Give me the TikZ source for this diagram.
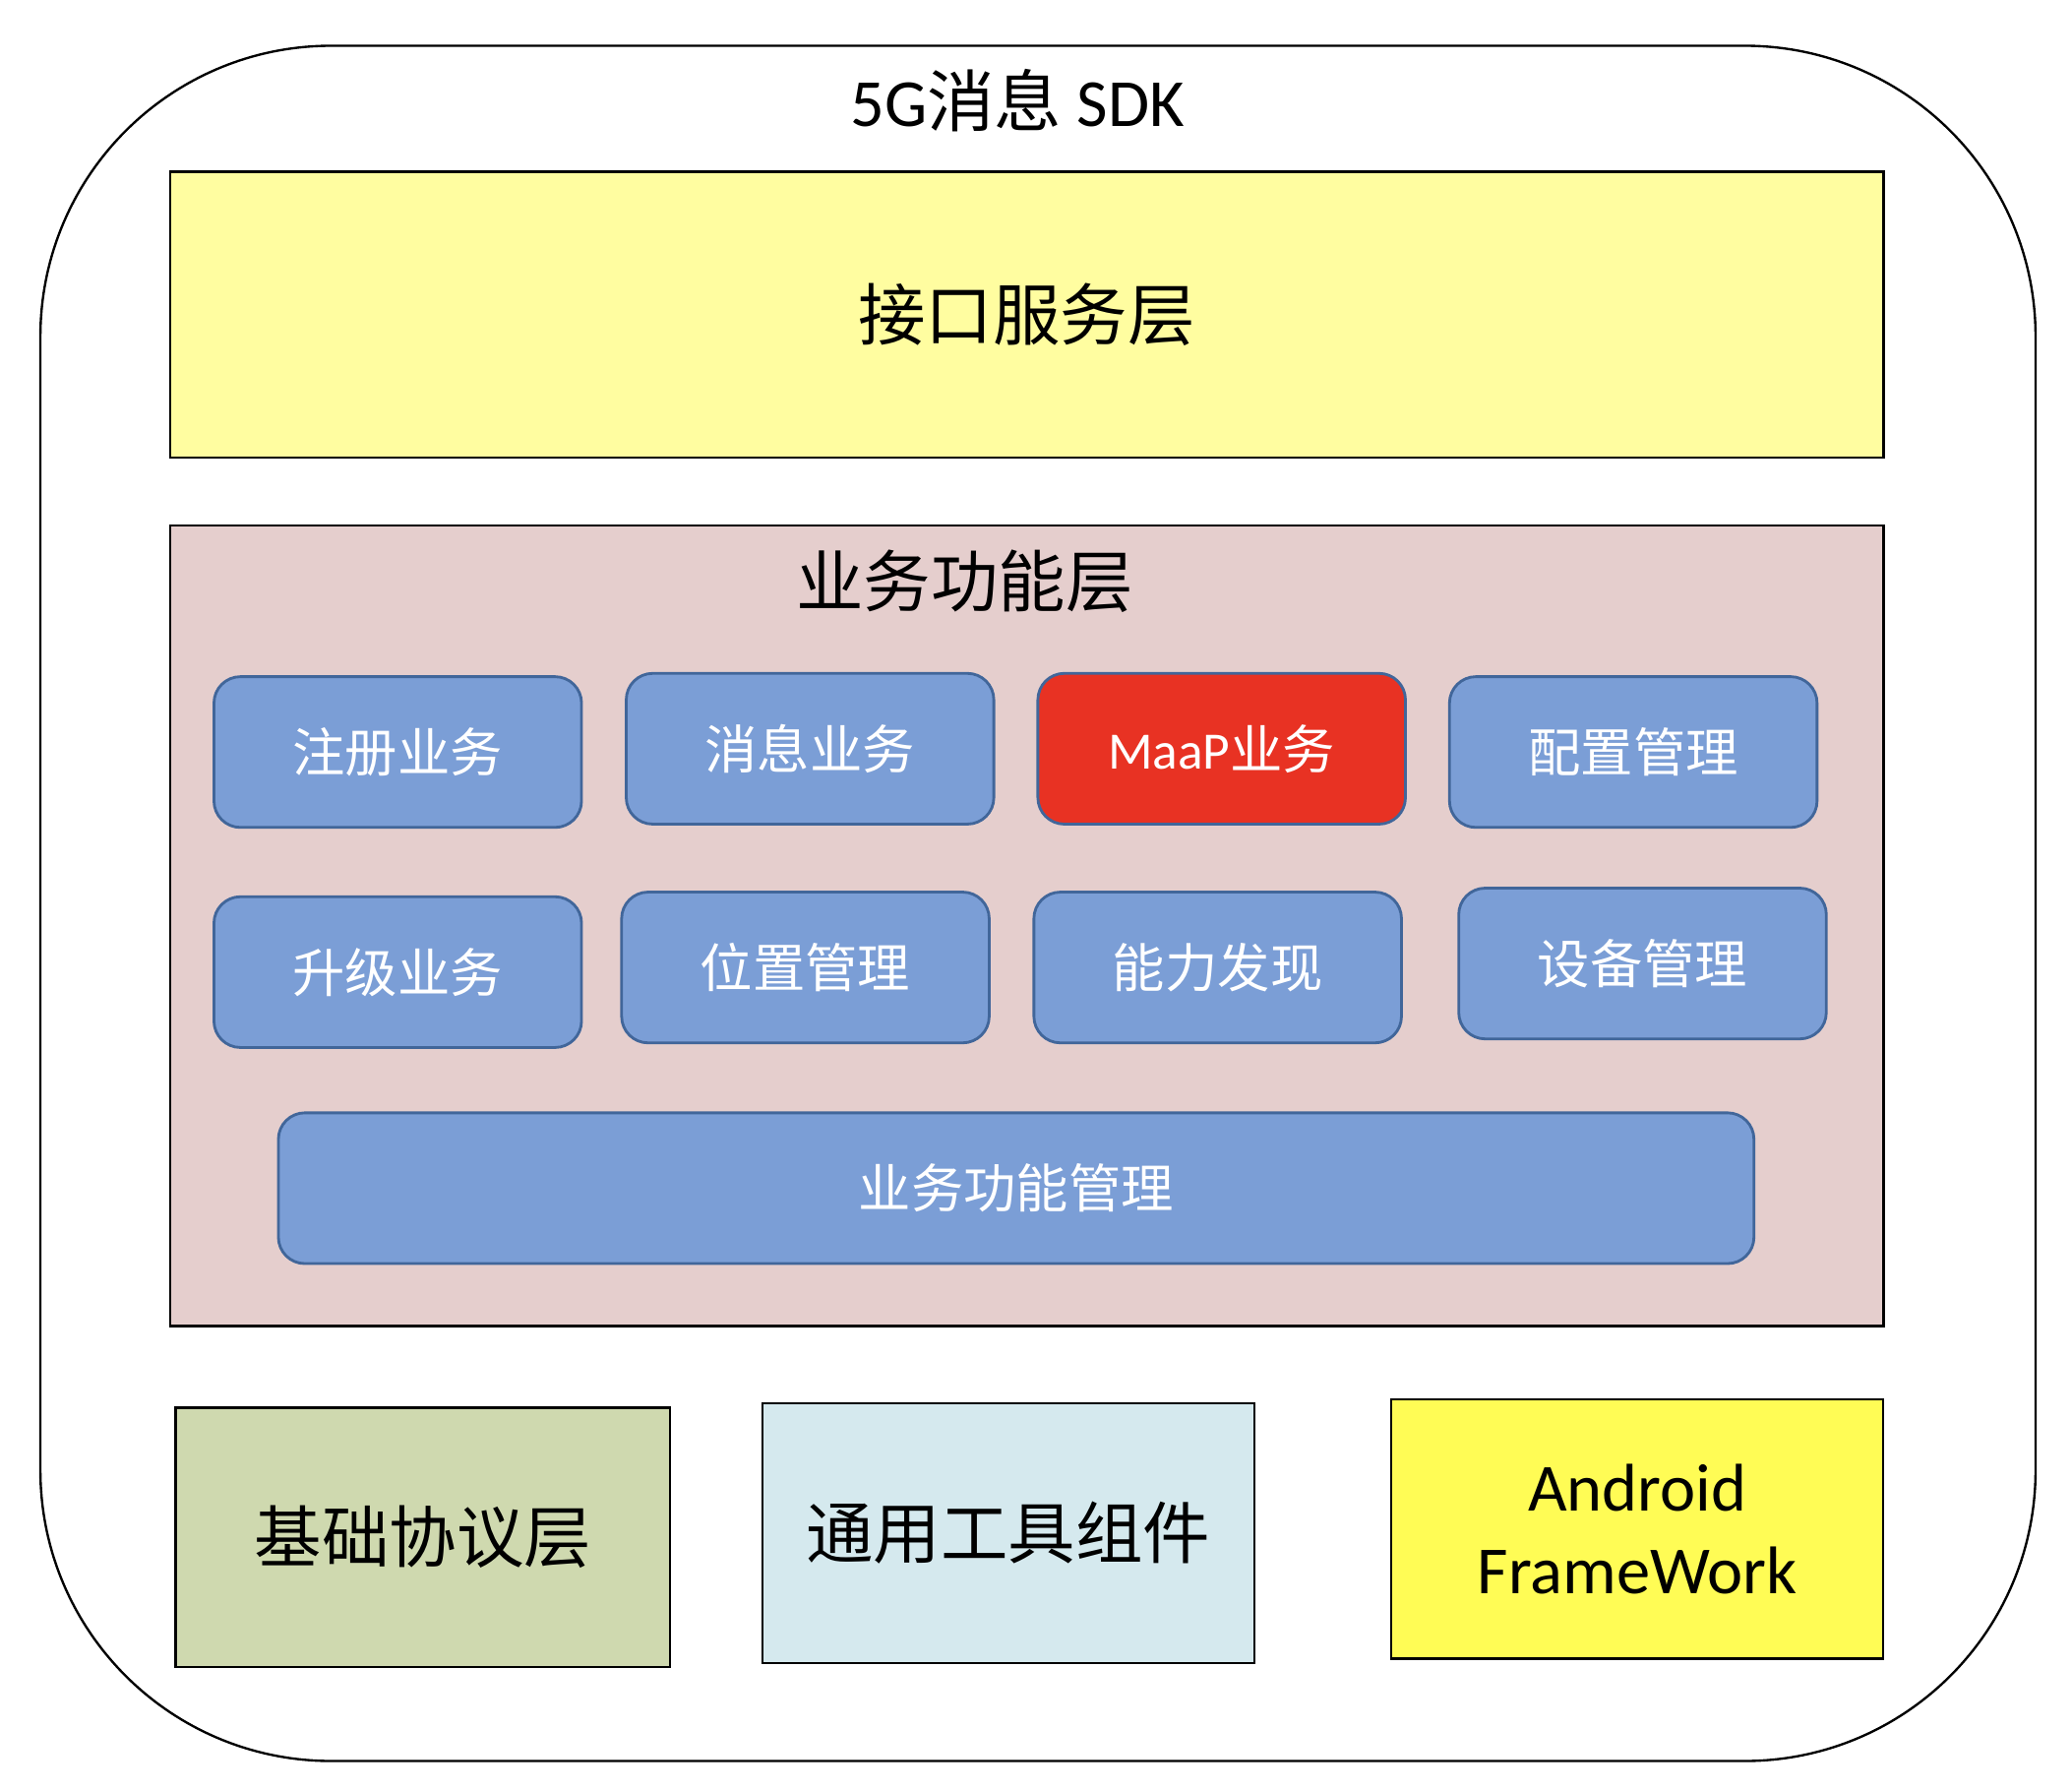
\documentclass[tikz,border=0pt]{standalone}
\usepackage{fontspec}
\setmainfont{Carlito}
\newfontfamily\cjk{Noto Sans CJK SC}
\usetikzlibrary{positioning}
\definecolor{ifyellow}{RGB}{255,253,160}
\definecolor{funcpink}{RGB}{229,206,205}
\definecolor{bizblue}{RGB}{123,158,214}
\definecolor{bizedge}{RGB}{65,102,154}
\definecolor{maapred}{RGB}{232,50,35}
\definecolor{basegreen}{RGB}{207,217,175}
\definecolor{utilcyan}{RGB}{213,233,238}
\definecolor{andyellow}{RGB}{255,252,85}
\tikzset
{%
bigtext/.style={font=\fontsize{14.5}{17.9}\selectfont},
layer/.style={draw=black, line width=0.5pt, inner sep=0pt, bigtext},
biz/.style={draw=bizedge, fill=bizblue, rounded corners=0.2cm, line width=0.6pt,
	minimum width=2.78cm, minimum height=1.14cm, inner sep=0pt, text=white,
	font=\fontsize{11.3}{13}\selectfont\cjk},
px/.style={x=0.01cm, y=-0.01cm}
}

\begin{document}
\begin{tikzpicture}[px]
		\useasboundingbox (0,0) rectangle (1568,1355);
		
		%SDK frame
		\node[draw, line width=0.5pt, rounded corners=2.2cm, minimum width=15.09cm,
			minimum height=12.97cm] (sdk) at (785.5,683.5) {};
		\node[bigtext] (title) at (770,76) {5G{\cjk 消息} SDK};
		
		%Interface layer
		\node[layer, fill=ifyellow, minimum width=12.96cm, minimum height=2.16cm]
			(iface) at (777,238) {\cjk 接口服务层};
		
		%Function layer
		\node[layer, fill=funcpink, minimum width=12.96cm, minimum height=6.05cm]
			(func) at (777,700.5) {};
		\node[bigtext] (functitle) at (730,440) {\cjk 业务功能层};
		
		\node[biz] (reg) at (301,569) {注册业务};
		\node[biz] (msg) at (613,566.5) {消息业务};
		\node[biz, fill=maapred] (maap) at (924.5,566.5) {{\rmfamily MaaP}业务};
		\node[biz] (cfg) at (1236,569) {配置管理};
		
		\node[biz] (upg) at (301,735.5) {升级业务};
		\node[biz] (loc) at (609.5,732) {位置管理};
		\node[biz] (cap) at (921.5,732) {能力发现};
		\node[biz] (dev) at (1243,729) {设备管理};
		
		\node[biz, minimum width=11.16cm] (mgmt) at (769,899) {业务功能管理};
		
		%Bottom layers
		\node[layer, fill=basegreen, minimum width=3.74cm, minimum height=1.96cm]
			(base) at (320,1163) {\cjk 基础协议层};
		\node[layer, fill=utilcyan, minimum width=3.72cm, minimum height=1.96cm]
			(util) at (763,1160) {\cjk 通用工具组件};
		\node[layer, fill=andyellow, minimum width=3.72cm, minimum height=1.96cm,
			align=center] (andr) at (1239,1157) {Android\\FrameWork};
	\end{tikzpicture}
\end{document}
